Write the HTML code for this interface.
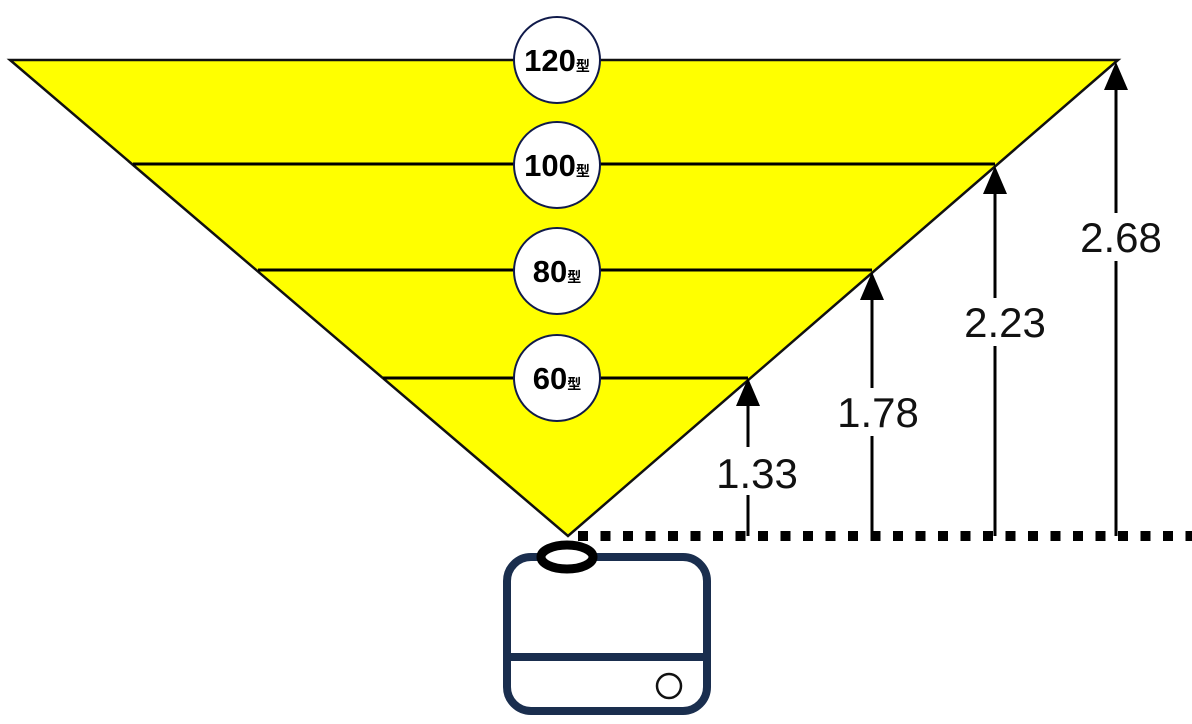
<!DOCTYPE html>
<html><head><style>body{margin:0;background:#fff}svg{display:block}</style></head><body>
<svg width="1192" height="724" viewBox="0 0 1192 724" xmlns="http://www.w3.org/2000/svg">
<polygon points="10,60 1118,60 568,536" fill="#ffff00" stroke="#111" stroke-width="2.5"/>
<g stroke="#000" stroke-width="3">
<line x1="133" y1="164" x2="995" y2="164"/>
<line x1="258" y1="270" x2="872" y2="270"/>
<line x1="383" y1="378" x2="748" y2="378"/>
</g>
<g fill="#fff" stroke="#101a4a" stroke-width="2">
<circle cx="557" cy="60" r="43"/>
<circle cx="557" cy="165" r="43"/>
<circle cx="557" cy="271" r="43"/>
<circle cx="557" cy="378" r="43"/>
</g>
<g font-family="Liberation Sans, Noto Sans CJK JP, sans-serif" font-weight="bold" fill="#000" text-anchor="middle">
<text x="557" y="71" font-size="31">120<tspan font-size="14">型</tspan></text>
<text x="557" y="176" font-size="31">100<tspan font-size="14">型</tspan></text>
<text x="557" y="282" font-size="31">80<tspan font-size="14">型</tspan></text>
<text x="557" y="389" font-size="31">60<tspan font-size="14">型</tspan></text>
</g>
<line x1="578" y1="536" x2="1192" y2="536" stroke="#000" stroke-width="10" stroke-dasharray="10,12.5"/>
<g stroke="#000" stroke-width="3">
<line x1="748" y1="536" x2="748" y2="400"/>
<line x1="872" y1="536" x2="872" y2="295"/>
<line x1="995" y1="536" x2="995" y2="188"/>
<line x1="1116" y1="536" x2="1116" y2="85"/>
</g>
<g fill="#000">
<polygon points="748,378 736,406 760,406"/>
<polygon points="872,272 860,300 884,300"/>
<polygon points="995,166 983,194 1007,194"/>
<polygon points="1116,62 1104,90 1128,90"/>
</g>
<g fill="#fff">
<rect x="712" y="447" width="90" height="48"/>
<rect x="833" y="388" width="90" height="48"/>
<rect x="960" y="298" width="90" height="48"/>
<rect x="1076" y="213" width="90" height="48"/>
</g>
<g font-family="Liberation Sans, sans-serif" font-size="42" fill="#111" text-anchor="middle">
<text x="757" y="488">1.33</text>
<text x="878" y="427">1.78</text>
<text x="1005" y="337">2.23</text>
<text x="1121" y="252">2.68</text>
</g>
<rect x="507" y="557" width="200" height="154" rx="24" fill="#fff" stroke="#1a2e4e" stroke-width="8"/>
<line x1="507" y1="657" x2="707" y2="657" stroke="#1a2e4e" stroke-width="8"/>
<circle cx="669" cy="686" r="12" fill="#fff" stroke="#111" stroke-width="2.5"/>
<ellipse cx="567" cy="557" rx="26" ry="12" fill="#fff" stroke="#000" stroke-width="9"/>
</svg>
</body></html>
